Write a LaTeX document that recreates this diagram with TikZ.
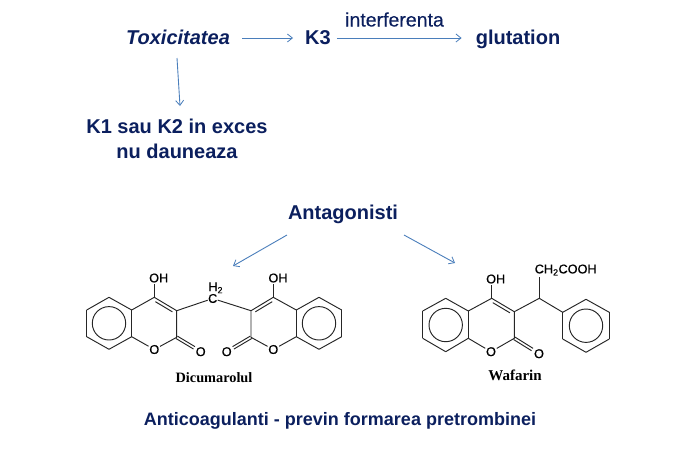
\documentclass[tikz,border=0pt]{standalone}
\usepackage{fontspec}
\setmainfont{Liberation Sans}
\newfontfamily\timesf{Liberation Serif}
\newfontfamily\medf[FakeBold=0.25]{Liberation Sans}
\newfontfamily\atomf[FakeBold=0.6]{Liberation Sans}
\usetikzlibrary{arrows.meta,calc}
\definecolor{navy}{HTML}{0B1F5E}
\definecolor{arrowblue}{HTML}{4A7EBB}
\definecolor{bondgray}{HTML}{262626}
\newcommand{\ptfont}[1]{\fontsize{#1}{#1}\selectfont}
\tikzset{
 x=1pt,y=-1pt,
 head/.style={font=\ptfont{20}\bfseries,text=navy,inner sep=0pt,anchor=base},
 arr/.style={draw=arrowblue,line width=0.9pt,-{Straight Barb[length=5pt,width=8pt,line width=0.8pt]}},
 bond/.style={draw=bondgray,line width=0.95pt},
 atom/.style={font=\atomf\ptfont{12.7},text=black,inner sep=0.6pt},
 molname/.style={font=\timesf\ptfont{14.3}\bfseries,text=black,inner sep=0pt},
}
% inner line of a double bond, offset to a side
\newcommand{\inbond}[3]{\draw[bond] ($(#1)!.12!(#2)!3.2pt!#3:(#2)$) -- ($(#2)!.12!(#1)!3.2pt!-#3:(#1)$);}
\newcommand{\ring}[6]{\foreach \p/\q in {#1/#2,#2/#3,#3/#4,#4/#5,#5/#6,#6/#1}{\draw[bond] (\p)--(\q);}}
% C=O double bond that stops short of the atom label
\newcommand{\dbo}[2]{\coordinate (e) at ($(#1)!.73!(#2)$);\draw[bond] ($(#1)!1.4pt!90:(e)$) -- ($(e)!1.4pt!-90:(#1)$);\draw[bond] ($(#1)!1.4pt!-90:(e)$) -- ($(e)!1.4pt!90:(#1)$);}
\begin{document}
\begin{tikzpicture}
\useasboundingbox (0,0) rectangle (699,475);
% headings
\node[head,font=\ptfont{20}\bfseries\itshape] (tox) at (178,44) {Toxicitatea};
\node[head] (k3) at (318,44) {K3};
\node[head] (glu) at (518,44) {glutation};
\node[head,font=\medf\ptfont{19.5}] (intf) at (394.5,26.5) {interferenta};
\node[head,align=center,font=\ptfont{20}\bfseries,anchor=center] (k1) at (177,139) {K1 sau K2 in exces\\[5pt]nu dauneaza};
\node[head] (ant) at (343,219) {Antagonisti};
\node[head,font=\ptfont{18}\bfseries] (bot) at (340,425) {Anticoagulanti - previn formarea pretrombinei};
% connectors
\draw[arr,shorten <=12pt,shorten >=12pt] ([yshift=6pt]tox.base east) -- ([yshift=6pt]k3.base west);
\draw[arr,shorten <=6pt,shorten >=14pt] ([yshift=6pt]k3.base east) -- ([yshift=6pt]glu.base west);
\coordinate (tox1) at (177,58);
\coordinate (k1top) at (180,106);
\draw[arr] (tox1) -- (k1top);
\coordinate (a1) at (287,235); \coordinate (dic) at (233,266);
\coordinate (a2) at (404,235); \coordinate (waf) at (455,263);
\draw[arr] (a1) -- (dic);
\draw[arr] (a2) -- (waf);

% Dicumarolul
\foreach \n/\x/\y in {la/109/297.3,lb/131.7/310,lc/131.7/336.7,ld/109/349.3,le/86.7/336.7,lf/86.7/310,
  lc4/154.3/297.3,lc3/176.7/310.7,lc2/176.7/337.3,
  rc4/273.3/297.3,rc3/251/310.7,rc2/251/337.3,
  ra/319/297.3,rb/341.7/310,rc/341.7/336.7,rd/319/349.3,re/296.3/336.7,rf/296.3/310,
  lcc/109/323.3,rcc/319/323.3}
  {\coordinate (\n) at (\x,\y);}
\node[atom] (lo) at (154.3,349.5) {O};
\node[atom] (ro) at (273.3,349.5) {O};
\node[atom] (lco) at (200.7,351.7) {O};
\node[atom] (rco) at (226.7,351.7) {O};
\node[atom] (loh) at (158.7,278) {OH};
\node[atom] (roh) at (278,278) {OH};
\node[atom,inner sep=0.2pt] (ch) at (212.7,298.5) {C};
\node[atom,anchor=south] at (215.7,294) {H\textsubscript{2}};
\ring{la}{lb}{lc}{ld}{le}{lf}
\ring{ra}{rb}{rc}{rd}{re}{rf}
\draw[bond] (lcc) circle (16.7);
\draw[bond] (rcc) circle (16.7);
\draw[bond] (lb)--(lc4)--(lc3)--(lc2)--(lo)--(lc);
\draw[bond] (rf)--(rc4)--(rc3)--(rc2)--(ro)--(re);
\inbond{lc4}{lc3}{-90}
\inbond{rc4}{rc3}{90}
\dbo{lc2}{lco}
\dbo{rc2}{rco}
\draw[bond] (lc4)--(154.3,284);
\draw[bond] (rc4)--(273.3,284);
\draw[bond] (lc3)--(ch)--(rc3);

% Wafarin
\foreach \n/\x/\y in {wa/445.7/298.3,wb/468.3/311,wc/468.3/338.3,wd/445.7/351.7,we/422.7/338.3,wf/422.7/311,
  wc4/491.7/298.3,wc3/514.3/311.7,wc2/514.3/338.3,wch/539.3/298.3,
  pa/586/299.3,pb/609.3/312.3,pc/609.3/339,pd/586/352.3,pe/562.7/339,pf/562.7/312.3,
  wcc/445.7/325,pcc/586/325.7}
  {\coordinate (\n) at (\x,\y);}
\node[atom] (wo) at (491,351.7) {O};
\node[atom] (wco) at (539,353.7) {O};
\node[atom] (woh) at (495.7,279) {OH};
\node[atom] (wac) at (565.7,270) {CH\textsubscript{2}COOH};
\ring{wa}{wb}{wc}{wd}{we}{wf}
\ring{pa}{pb}{pc}{pd}{pe}{pf}
\draw[bond] (wcc) circle (16.7);
\draw[bond] (pcc) circle (16.7);
\draw[bond] (wb)--(wc4)--(wc3)--(wc2)--(wo)--(wc);
\inbond{wc4}{wc3}{-90}
\dbo{wc2}{wco}
\draw[bond] (wc4)--(491.7,285);
\draw[bond] (wc3)--(wch)--(pf);
\draw[bond] (wch)--(539.3,276.7);

\node[molname] (dn) at (214,377.5) {Dicumarolul};
\node[molname,font=\timesf\ptfont{15}\bfseries] (wn) at (515,375.5) {Wafarin};
\end{tikzpicture}
\end{document}
